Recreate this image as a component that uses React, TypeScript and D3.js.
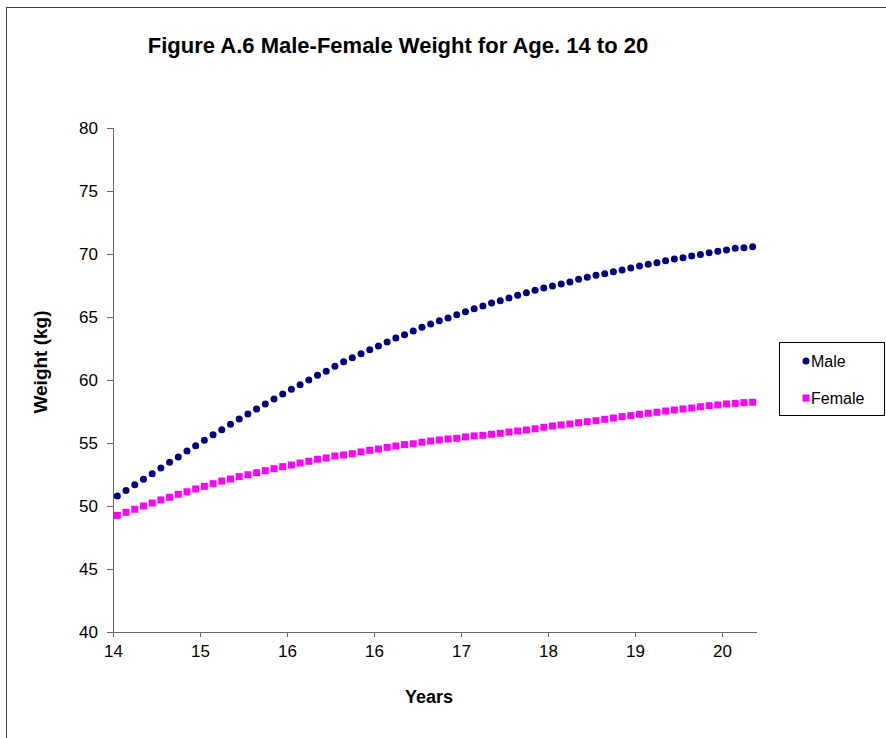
import { useEffect, useRef } from 'react'
import * as d3 from 'd3'

// Weight (kg) per monthly step from age 14
const male = [
  50.79, 51.24, 51.69, 52.12, 52.56, 53.02, 53.47, 53.89, 54.37, 54.79,
  55.21, 55.66, 56.06, 56.48, 56.9, 57.3, 57.7, 58.1, 58.49, 58.89,
  59.26, 59.63, 60.0, 60.37, 60.69, 61.09, 61.45, 61.77, 62.09, 62.4,
  62.7, 63.02, 63.33, 63.6, 63.89, 64.18, 64.44, 64.71, 64.92, 65.18,
  65.42, 65.66, 65.87, 66.11, 66.29, 66.51, 66.72, 66.93, 67.12, 67.3,
  67.46, 67.62, 67.78, 67.99, 68.15, 68.31, 68.44, 68.6, 68.73, 68.89,
  69.05, 69.18, 69.31, 69.47, 69.6, 69.71, 69.84, 69.97, 70.1, 70.21,
  70.32, 70.45, 70.5, 70.58,
]

const female = [
  49.26, 49.5, 49.74, 50.0, 50.24, 50.48, 50.69, 50.93, 51.13, 51.35,
  51.56, 51.77, 51.98, 52.14, 52.33, 52.48, 52.64, 52.8, 52.96, 53.12,
  53.25, 53.41, 53.55, 53.71, 53.81, 53.97, 54.05, 54.15, 54.29, 54.42,
  54.52, 54.66, 54.76, 54.87, 54.94, 55.06, 55.16, 55.24, 55.32, 55.37,
  55.48, 55.56, 55.61, 55.69, 55.77, 55.87, 55.95, 56.03, 56.13, 56.25,
  56.35, 56.43, 56.51, 56.61, 56.69, 56.77, 56.88, 56.98, 57.09, 57.17,
  57.28, 57.36, 57.44, 57.54, 57.62, 57.7, 57.78, 57.88, 57.96, 58.02,
  58.1, 58.15, 58.2, 58.23,
]

const categories = male.map((_, i) => i)
// one label every 10 categories, as printed on the original axis
const xTickLabels = ['14', '15', '16', '16', '17', '18', '19', '20']
const yTicks = [40, 45, 50, 55, 60, 65, 70, 75, 80]

const FONT = '"Liberation Sans", Arial, sans-serif'

export default function App() {
  const svgRef = useRef<SVGSVGElement>(null)

  useEffect(() => {
    if (!svgRef.current) return
    const svg = d3.select(svgRef.current)
    svg.selectAll('*').remove()

    const W = 886
    const H = 738
    const left = 113, right = 757, top = 128, bottom = 632

    svg.attr('width', W).attr('height', H).style('font-family', FONT)

    // chart frame
    svg.append('rect').attr('x', 6.5).attr('y', 7.5).attr('width', W + 10).attr('height', H + 10)
      .attr('fill', '#fff').attr('stroke', '#404040').attr('stroke-width', 1)

    const x = d3.scaleBand<number>().domain(categories).range([left, right]).paddingInner(0).paddingOuter(0)
    const y = d3.scaleLinear().domain([40, 80]).range([bottom, top])

    // y axis
    const yAxis = svg.append('g').attr('transform', `translate(${left},0)`)
      .call(d3.axisLeft(y).tickValues(yTicks).tickSize(6).tickPadding(9).tickFormat(d3.format('d')))
    yAxis.selectAll('text').style('font-size', '17px').style('fill', '#000').style('font-family', FONT)
    yAxis.selectAll('line').style('stroke', '#666')
    yAxis.select('.domain').style('stroke', '#666').attr('d', `M0.5,${top}V${bottom}`)

    // x axis: ticks on band boundaries every 10 categories
    const step = x.step()
    const xTickPos = xTickLabels.map((_, i) => left + i * 10 * step)
    const xAxis = svg.append('g').attr('transform', `translate(0,${bottom})`)
    xAxis.append('line').attr('x1', left).attr('x2', right).attr('y1', 0.5).attr('y2', 0.5).style('stroke', '#666')
    xAxis.selectAll('.tick').data(xTickLabels).enter().append('g').attr('class', 'tick')
      .attr('transform', (_, i) => `translate(${Math.round(xTickPos[i]) + 0.5},0)`)
      .each(function (d) {
        const g = d3.select(this)
        g.append('line').attr('y1', 0).attr('y2', 5).style('stroke', '#666')
        g.append('text').attr('y', 25).attr('text-anchor', 'middle')
          .style('font-size', '17px').style('fill', '#000').text(d)
      })

    // axis titles
    svg.append('text').attr('x', 429).attr('y', 703).attr('text-anchor', 'middle')
      .style('font-size', '18px').style('font-weight', 'bold').text('Years')
    svg.append('text').attr('transform', 'translate(47,362) rotate(-90)').attr('text-anchor', 'middle')
      .style('font-size', '19px').style('font-weight', 'bold').text('Weight (kg)')

    // title
    svg.append('text').attr('x', 398).attr('y', 53).attr('text-anchor', 'middle')
      .style('font-size', '22px').style('font-weight', 'bold').text('Figure A.6 Male-Female Weight for Age. 14 to 20')

    const cx = (i: number) => (x(i) as number) + x.bandwidth() / 2

    // series
    svg.append('g').selectAll('circle').data(male).enter().append('circle')
      .attr('cx', (_, i) => cx(i)).attr('cy', d => y(d)).attr('r', 3.5).attr('fill', '#000080')

    svg.append('g').selectAll('rect').data(female).enter().append('rect')
      .attr('x', (_, i) => cx(i) - 3.5).attr('y', d => y(d) - 3.5).attr('width', 7).attr('height', 7)
      .attr('fill', '#ff00ff')

    // legend
    const legend = svg.append('g')
    legend.append('rect').attr('x', 779.5).attr('y', 342.5).attr('width', 105).attr('height', 73)
      .attr('fill', '#fff').attr('stroke', '#000').attr('stroke-width', 1)
    legend.append('circle').attr('cx', 806).attr('cy', 361).attr('r', 3.5).attr('fill', '#000080')
    legend.append('text').attr('x', 811).attr('y', 367).style('font-size', '16px').text('Male')
    legend.append('rect').attr('x', 802.5).attr('y', 394.5).attr('width', 7).attr('height', 7).attr('fill', '#ff00ff')
    legend.append('text').attr('x', 811).attr('y', 404).style('font-size', '16px').text('Female')
  }, [])

  return (
    <svg ref={svgRef} style={{ position: 'absolute', left: 0, top: 0, display: 'block' }} />
  )
}
